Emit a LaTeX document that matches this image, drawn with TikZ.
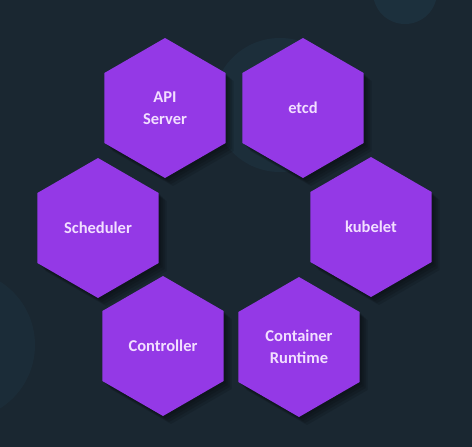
\documentclass[tikz,border=0pt]{standalone}
\usepackage{fontspec}
\setmainfont{Carlito}
\usetikzlibrary{shapes.geometric}
\definecolor{bg}{HTML}{1A2731}
\definecolor{bgc}{HTML}{1E3543}
\definecolor{hexc}{HTML}{9439E6}
\definecolor{txt}{HTML}{F2DFFF}
\tikzset{
  hexbox/.style={regular polygon, regular polygon sides=6, shape border rotate=30,
    minimum size=140pt, inner sep=0pt, fill=hexc, text=txt, align=center,
    font=\fontsize{16.5}{22}\selectfont\bfseries},
  hexshadow/.style={regular polygon, regular polygon sides=6, shape border rotate=30,
    minimum size=140pt, inner sep=0pt, fill=black, fill opacity=0.12},
}
\begin{document}
\begin{tikzpicture}[x=1pt,y=-1pt]
\fill[bg] (0,0) rectangle (472,447);
\useasboundingbox (0,0) rectangle (472,447);
\begin{scope}
\clip (0,0) rectangle (472,447);
\fill[bgc, opacity=0.7] (405,-8) circle (32);
\fill[bgc, opacity=0.55] (280,105) circle (67);
\fill[bgc, opacity=0.4] (-40,345) circle (75);
\end{scope}
\foreach \cx/\cy in {165/108,303/108,98/228,371/227,163/346,299/347}{
  \foreach \d in {2,4,6,8}{
    \node[hexshadow] at (\cx+\d,\cy+\d) {};
  }
}
\node[hexbox] (api) at (165,108) {API\\Server};
\node[hexbox] (etcd) at (303,108) {etcd};
\node[hexbox] (sched) at (98,228) {Scheduler};
\node[hexbox] (kubelet) at (371,227) {kubelet};
\node[hexbox] (ctrl) at (163,346) {Controller};
\node[hexbox] (cr) at (299,347) {Container\\Runtime};
\end{tikzpicture}
\end{document}
